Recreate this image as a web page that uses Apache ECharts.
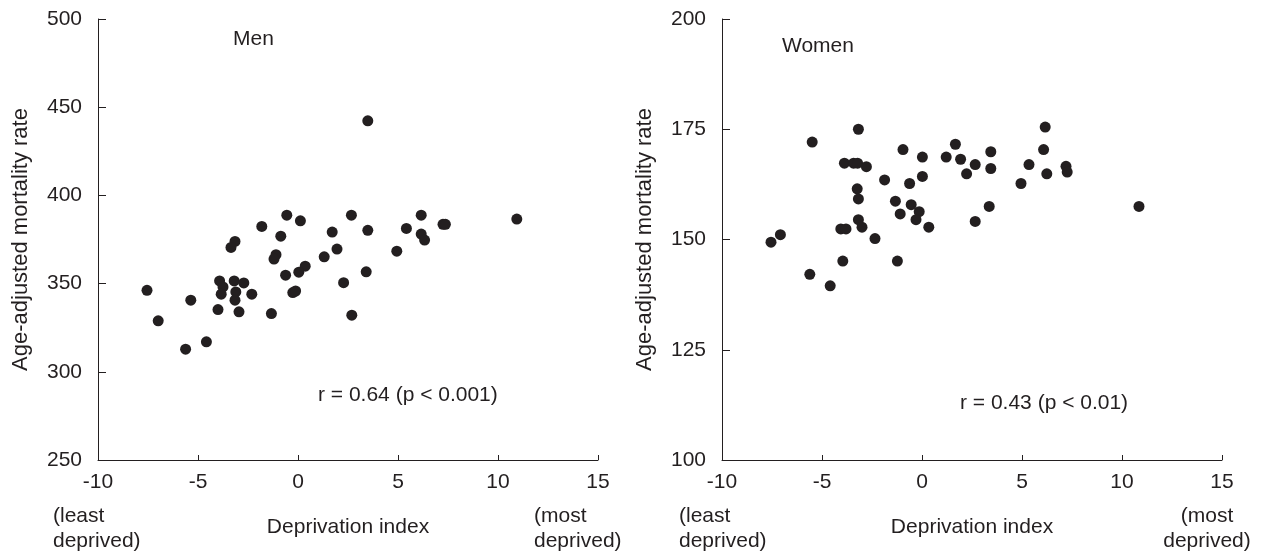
<!DOCTYPE html>
<html>
<head>
<meta charset="utf-8">
<script src="https://cdn.jsdelivr.net/npm/echarts@6/dist/echarts.min.js"></script>
<style>
  html, body { margin: 0; padding: 0; background: #fff; }
  #chart { width: 1270px; height: 558px; }
</style>
</head>
<body>
<div id="chart"></div>
<script>
// deprivation index (x) and age-adjusted mortality rate (y)
let menX = [3.49, -0.56, 0.12, -1.81, -0.86, -3.15, -3.35, 2.67, 1.71, 1.95, 3.49, 6.16, 5.42, 6.16, 6.33, 7.25, 7.37, 10.94, 4.94, 1.31, -1.10, -1.20, 0.36, 0.04, -0.62, 3.41, 2.28,
            -7.55, -6.99, -5.62, -5.36, -4.58, -4.00, -3.92, -3.75, -3.84, -3.19, -3.11, -3.15, -2.95, -2.71, -2.31, -1.33, -0.26, -0.12, 2.69]
let menY = [442.3, 388.8, 385.6, 382.4, 376.9, 373.9, 370.5, 388.8, 379.2, 369.6, 380.2, 388.8, 381.3, 378.1, 374.7, 383.6, 383.6, 386.6, 368.4, 365.2, 366.4, 363.9, 359.9, 356.5, 354.8, 356.7, 350.5,
            346.2, 328.9, 312.8, 340.6, 317.0, 335.3, 351.5, 348.1, 344.0, 351.5, 345.3, 340.6, 334.0, 350.4, 344.0, 333.0, 344.9, 345.8, 332.1]

let womenX = [6.16, -3.18, -5.49, 1.67, -0.95, 6.08, 3.44, 0.02, 1.21, 1.93, -3.88, -3.42, -3.22, -2.78, 2.66, 5.35, 3.44, 7.20, 7.26, 6.24, 2.23, 0.02, -1.87, -0.62,
              4.95, -3.24, -3.18, -1.33, -0.54, 3.36, 10.85, -1.09, -0.14, -3.18, -0.30, 2.66, -3.00, 0.34, -4.06, -3.80, -2.35, -7.08, -7.55, -3.96, -1.23, -5.61, -4.59]
let womenY = [175.5, 175.0, 172.1, 171.6, 170.4, 170.4, 169.9, 168.7, 168.7, 168.2, 167.3, 167.3, 167.3, 166.5, 167.0, 167.0, 166.1, 166.6, 165.3, 164.9, 164.9, 164.3, 163.5, 162.7,
              162.7, 161.5, 159.2, 158.7, 157.9, 157.5, 157.5, 155.8, 156.3, 154.5, 154.5, 154.1, 152.8, 152.8, 152.4, 152.4, 150.2, 151.1, 149.4, 145.1, 145.1, 142.1, 139.5]

let xRange = [-10, 15, 5]
let menRange = [250, 500, 50]
let womenRange = [100, 200, 25]
let panelTitles = ['Men', 'Women']
let corrLabels = ['r = 0.64 (p < 0.001)', 'r = 0.43 (p < 0.01)']
let xName = 'Deprivation index'
let yName = 'Age-adjusted mortality rate'

let ink = '#231f20'
let font = 'Liberation Sans, Arial, sans-serif'
let fs = 21

function zip(xs, ys) {
    let out = []
    for (let i = 0; i < xs.length; i++) out.push([xs[i], ys[i]])
    return out
}

function xAxisFor(idx) {
    return {
        type: 'value', gridIndex: idx,
        min: xRange[0], max: xRange[1], interval: xRange[2],
        name: xName, nameLocation: 'middle', nameGap: 57,
        nameTextStyle: { color: ink, fontSize: fs, fontFamily: font },
        axisLine: { show: true, onZero: false, lineStyle: { color: ink, width: 1 } },
        axisTick: { show: true, inside: true, length: 5, lineStyle: { color: ink } },
        axisLabel: { color: ink, fontSize: fs, fontFamily: font, margin: 12 },
        splitLine: { show: false }
    }
}

function yAxisFor(idx, range) {
    return {
        type: 'value', gridIndex: idx,
        min: range[0], max: range[1], interval: range[2],
        name: yName, nameLocation: 'middle', nameGap: 66, nameRotate: 90,
        nameTextStyle: { color: ink, fontSize: 22, fontFamily: font },
        axisLine: { show: true, onZero: false, lineStyle: { color: ink, width: 1 } },
        axisTick: { show: true, inside: true, length: 8, lineStyle: { color: ink } },
        axisLabel: { color: ink, fontSize: fs, fontFamily: font, margin: 16 },
        splitLine: { show: false }
    }
}

function txt(x, top, text, align) {
    return {
        type: 'text', x: x, y: top,
        style: { text: text, fill: ink, font: fs + 'px ' + font, align: align || 'left', verticalAlign: 'top', lineHeight: 25 }
    }
}

let chart = echarts.init(document.getElementById('chart'))
let option = {
    backgroundColor: '#fff',
    animation: false,
    grid: [
        { left: 98, top: 19, width: 500, height: 441 },
        { left: 722, top: 19, width: 500, height: 441 }
    ],
    xAxis: [xAxisFor(0), xAxisFor(1)],
    yAxis: [yAxisFor(0, menRange), yAxisFor(1, womenRange)],
    series: [
        {
            type: 'scatter', xAxisIndex: 0, yAxisIndex: 0,
            data: zip(menX, menY), symbolSize: 11,
            itemStyle: { color: ink, opacity: 1 }
        },
        {
            type: 'scatter', xAxisIndex: 1, yAxisIndex: 1,
            data: zip(womenX, womenY), symbolSize: 11,
            itemStyle: { color: ink, opacity: 1 }
        }
    ],
    graphic: [
        txt(233, 27, panelTitles[0]),
        txt(782, 34, panelTitles[1]),
        txt(318, 383, corrLabels[0]),
        txt(960, 391, corrLabels[1]),
        txt(53, 504, '(least\ndeprived)'),
        txt(534, 504, '(most\ndeprived)'),
        txt(679, 504, '(least\ndeprived)'),
        txt(1207, 504, '(most\ndeprived)', 'center')
    ]
}
chart.setOption(option)
</script>
</body>
</html>
